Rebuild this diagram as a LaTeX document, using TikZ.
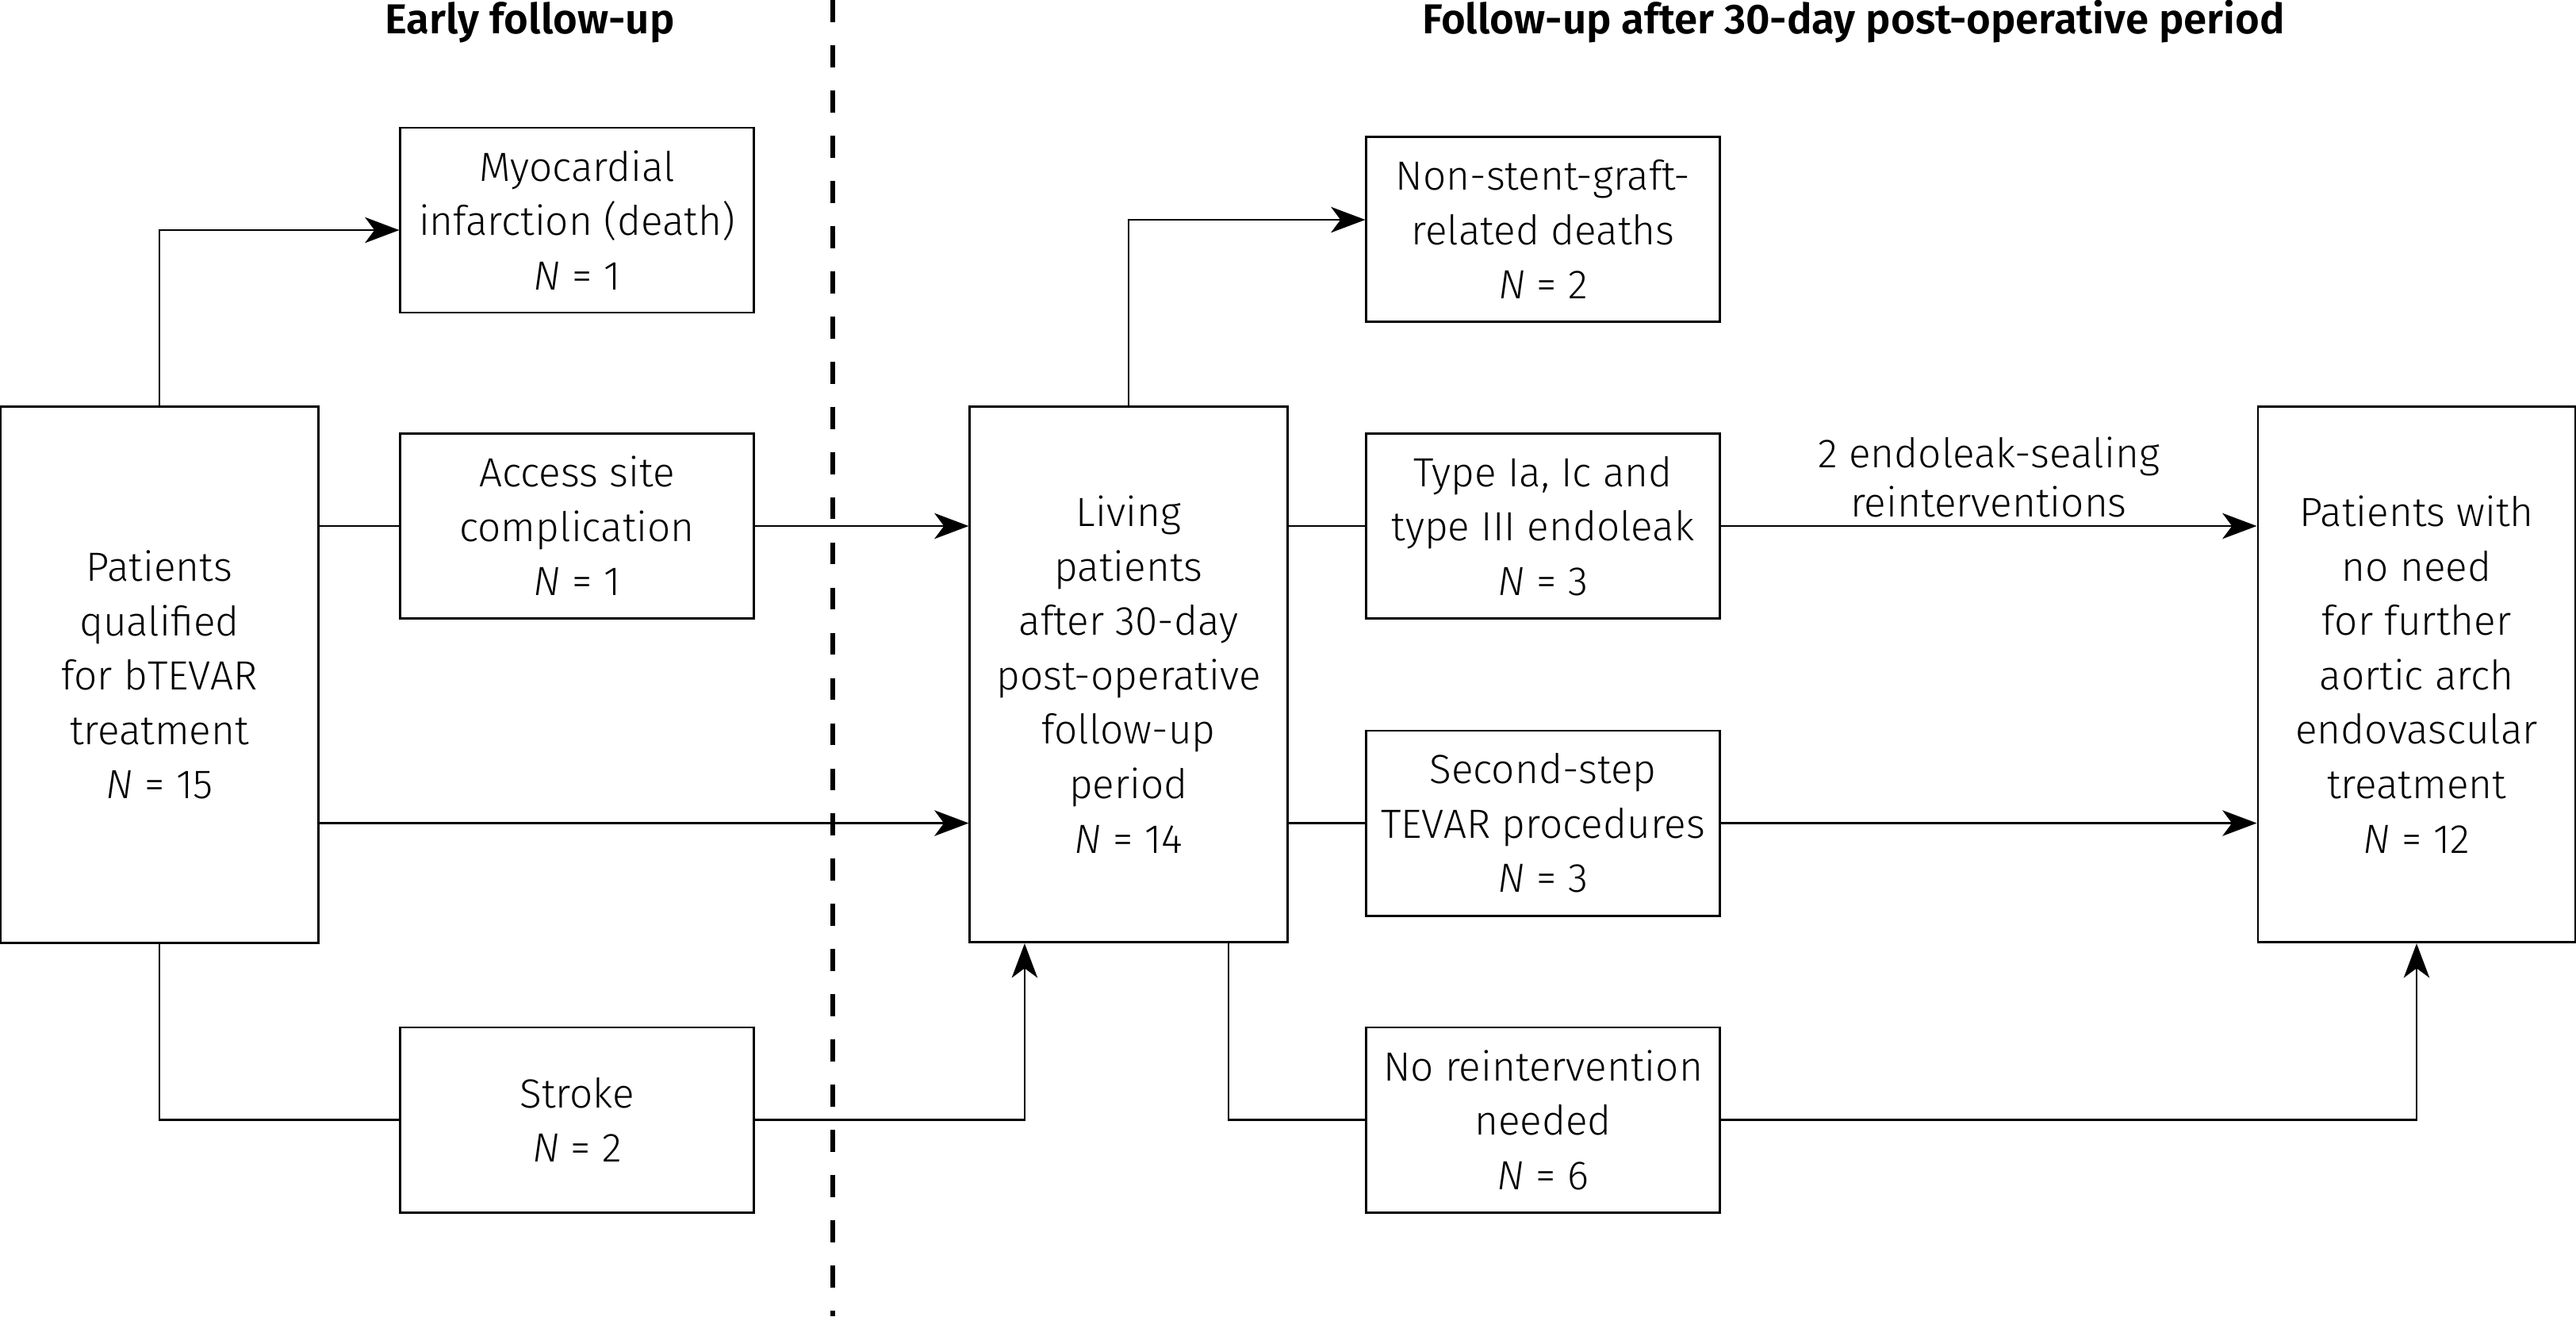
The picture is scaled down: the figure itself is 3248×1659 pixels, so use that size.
\documentclass[tikz,border=0pt]{standalone}
\usepackage{fontspec}
\IfFontExistsTF{Fira Sans Light}{%
  \setmainfont{Fira Sans Light}[BoldFont={Fira Sans SemiBold},ItalicFont={Fira Sans Light Italic}]%
}{%
  \setmainfont{Fira Sans}%
}
\usetikzlibrary{arrows.meta,calc}
\newcommand{\bodyfont}{\fontsize{14.6}{19.5}\selectfont}
\newcommand{\labfont}{\fontsize{14.6}{17.6}\selectfont}
\newcommand{\headfont}{\fontsize{15.0}{19}\selectfont\bfseries}
\begin{document}
\begin{tikzpicture}[x=0.01cm,y=-0.01cm,
  box/.style={draw,line width=0.8pt,minimum width=4.45cm,minimum height=2.33cm,align=center,inner sep=0pt,font=\bodyfont},
  bigbox/.style={box,minimum width=4.0cm,minimum height=6.75cm},
  conn/.style={line width=0.8pt},
  arr/.style={conn,-{Stealth[length=12.3pt,width=9.2pt,inset=3.4pt]}},
  divider/.style={line width=1.9pt,dash pattern=on 7.9pt off 8.3pt},
  head/.style={anchor=base,inner sep=0pt,font=\headfont}]
\fill[white] (0,0) rectangle (3248,1659);
\useasboundingbox (0,0) rectangle (3248,1659);

% titles
\node[head] (t1) at (668,42) {Early follow-up};
\node[head] (t2) at (2337,42) {Follow-up after 30-day post-operative period};

% divider
\coordinate (dtop) at (1050,0);
\coordinate (dbot) at (1050,1659);
\draw[divider] (dtop) -- (dbot);

% nodes
\node[bigbox] (A) at (201,850.5) {Patients\\qualified\\for bTEVAR\\treatment\\\textit{N} = 15};
\node[box] (myo) at (727.5,277.5) {Myocardial\\infarction (death)\\\textit{N} = 1};
\node[box] (acc) at (727.5,663) {Access site\\complication\\\textit{N} = 1};
\node[box] (str) at (727.5,1411.5) {Stroke\\\textit{N} = 2};
\node[bigbox] (liv) at (1423,850) {Living\\patients\\after 30-day\\post-operative\\follow-up\\period\\\textit{N} = 14};
\node[box] (non) at (1945.5,289) {Non-stent-graft-\\related deaths\\\textit{N} = 2};
\node[box] (typ) at (1945.5,663) {Type Ia, Ic and\\type III endoleak\\\textit{N} = 3};
\node[box] (sec) at (1945.5,1037.5) {Second-step\\TEVAR procedures\\\textit{N} = 3};
\node[box] (nor) at (1945.5,1411.5) {No reintervention\\needed\\\textit{N} = 6};
\node[bigbox] (pw) at (3047,850) {Patients with\\no need\\for further\\aortic arch\\endovascular\\treatment\\\textit{N} = 12};

% connectors, early follow-up
\draw[arr] (A.north) |- ([yshift=-0.125cm]myo.west);
\draw[conn] (A.east |- acc.west) -- (acc.west);
\draw[arr] (acc.east) -- (acc.east -| liv.west);
\draw[arr] (A.east |- sec.west) -- (liv.west |- sec.west);
\draw[conn] (A.south) |- (str.west);
\draw[arr] (str.east) -| ([xshift=-1.31cm]liv.south);

% connectors, late follow-up
\draw[arr] (liv.north) |- ([yshift=0.12cm]non.west);
\draw[conn] (liv.east |- typ.west) -- (typ.west);
\draw[arr] (typ.east) -- node[midway,above=0.1cm,inner sep=0pt,align=center,font=\labfont] (lab) {2 endoleak-sealing\\reinterventions} (pw.west |- typ.east);
\draw[conn] (liv.east |- sec.west) -- (sec.west);
\draw[arr] (sec.east) -- (pw.west |- sec.east);
\draw[conn] ([xshift=1.26cm]liv.south) |- (nor.west);
\draw[arr] (nor.east) -| (pw.south);
\end{tikzpicture}
\end{document}
